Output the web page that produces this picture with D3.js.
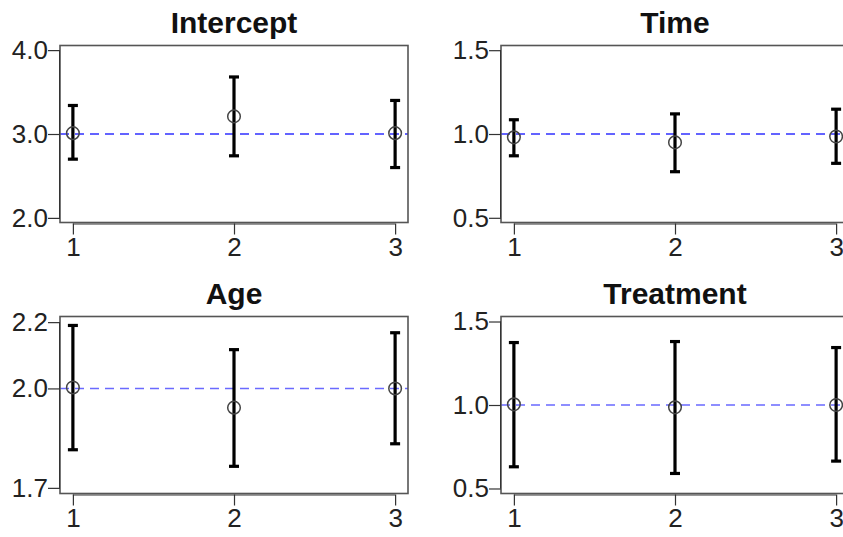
<!DOCTYPE html>
<html>
<head>
<meta charset="utf-8">
<script src="https://cdn.jsdelivr.net/npm/d3@7"></script>
<style>
  body { margin: 0; background: #fff; }
  svg text { font-family: "Liberation Sans", Arial, sans-serif; }
</style>
</head>
<body>
<div class="chart"></div>
<script>
// values
var categories = [1, 2, 3];
var panelNames = ["Intercept", "Time", "Age", "Treatment"];

var estIntercept = [3.01, 3.21, 3.01];
var lowIntercept = [2.70, 2.74, 2.60];
var highIntercept = [3.34, 3.68, 3.40];

var estTime = [0.98, 0.95, 0.985];
var lowTime = [0.87, 0.775, 0.825];
var highTime = [1.085, 1.12, 1.148];

var estAge = [2.003, 1.942, 2.0];
var lowAge = [1.815, 1.765, 1.833];
var highAge = [2.19, 2.117, 2.168];

var estTreatment = [1.004, 0.986, 1.0];
var lowTreatment = [0.63, 0.59, 0.664];
var highTreatment = [1.374, 1.38, 1.344];

var refValues = [3, 1, 2, 1];
var yTicks = [[2, 3, 4], [0.5, 1, 1.5], [1.7, 2.0, 2.2], [0.5, 1, 1.5]];
var yDomains = [[1.945, 4.055], [0.472, 1.528], [1.683, 2.217], [0.47, 1.53]];

var estimates = [estIntercept, estTime, estAge, estTreatment];
var lows = [lowIntercept, lowTime, lowAge, lowTreatment];
var highs = [highIntercept, highTime, highAge, highTreatment];

var width = 843, height = 537;
var boxW = 348, boxH = 177;
var lefts = [60, 501], tops = [45.5, 316.5];
var refColors = ["#3030ff", "#3030ff", "#6a6aff", "#6a6aff"];

var svg = d3.select(".chart").append("svg")
    .attr("width", width)
    .attr("height", height);

panelNames.forEach(function(name, i) {
  var ox = lefts[i % 2], oy = tops[Math.floor(i / 2)];
  var g = svg.append("g").attr("transform", "translate(" + ox + "," + oy + ")");

  var x = d3.scaleLinear().domain([0.92, 3.08]).range([0, boxW]);
  var y = d3.scaleLinear().domain(yDomains[i]).range([boxH, 0]);

  var rows = categories.map(function(c, j) {
    return { c: c, est: estimates[i][j], lo: lows[i][j], hi: highs[i][j] };
  });

  // reference line
  g.append("line")
    .attr("x1", 0).attr("x2", boxW)
    .attr("y1", y(refValues[i])).attr("y2", y(refValues[i]))
    .attr("stroke", refColors[i])
    .attr("stroke-width", 1.4)
    .attr("stroke-dasharray", "9,6");

  // error bars
  var bars = g.selectAll(".bar").data(rows).enter().append("g").attr("class", "bar");
  bars.append("line")
    .attr("x1", function(d) { return x(d.c); })
    .attr("x2", function(d) { return x(d.c); })
    .attr("y1", function(d) { return y(d.lo); })
    .attr("y2", function(d) { return y(d.hi); })
    .attr("stroke", "#000").attr("stroke-width", 3.2);
  bars.selectAll(".cap")
    .data(function(d) { return [[d.c, d.lo], [d.c, d.hi]]; })
    .enter().append("line")
    .attr("x1", function(d) { return x(d[0]) - 5; })
    .attr("x2", function(d) { return x(d[0]) + 5; })
    .attr("y1", function(d) { return y(d[1]); })
    .attr("y2", function(d) { return y(d[1]); })
    .attr("stroke", "#000").attr("stroke-width", 3.2);

  g.selectAll(".pt").data(rows).enter().append("circle")
    .attr("cx", function(d) { return x(d.c); })
    .attr("cy", function(d) { return y(d.est); })
    .attr("r", 6.3)
    .attr("fill", "none")
    .attr("stroke", "#444")
    .attr("stroke-width", 1.5);

  // frame
  g.append("rect")
    .attr("width", boxW).attr("height", boxH)
    .attr("fill", "none")
    .attr("stroke", "#555")
    .attr("stroke-width", 1.6);

  // axes, R style (line only between first and last tick)
  var yAxis = g.append("g")
    .call(d3.axisLeft(y).tickValues(yTicks[i]).tickFormat(d3.format(".1f")).tickSize(12).tickPadding(0));
  yAxis.select(".domain").remove();
  yAxis.append("line")
    .attr("x1", -0.5).attr("x2", -0.5)
    .attr("y1", y(d3.min(yTicks[i]))).attr("y2", y(d3.max(yTicks[i])))
    .attr("stroke", "#333");

  var xAxis = g.append("g")
    .attr("transform", "translate(0," + (boxH + 1) + ")")
    .call(d3.axisBottom(x).tickValues(categories).tickFormat(d3.format("d")).tickSize(11).tickPadding(3));
  xAxis.select(".domain").remove();
  xAxis.append("line")
    .attr("x1", x(categories[0])).attr("x2", x(categories[categories.length - 1]))
    .attr("y1", 0.5).attr("y2", 0.5)
    .attr("stroke", "#333");

  svg.selectAll(".tick line").attr("stroke", "#333").attr("stroke-width", 1.2);
  svg.selectAll(".tick text").attr("fill", "#222").style("font-size", "26px")
    .style("font-family", "'Liberation Sans', Arial, sans-serif");

  g.append("text")
    .attr("x", boxW / 2)
    .attr("y", -12.5)
    .attr("text-anchor", "middle")
    .style("font-size", "30px")
    .style("font-weight", "bold")
    .attr("fill", "#111")
    .text(name);
});
</script>
</body>
</html>
